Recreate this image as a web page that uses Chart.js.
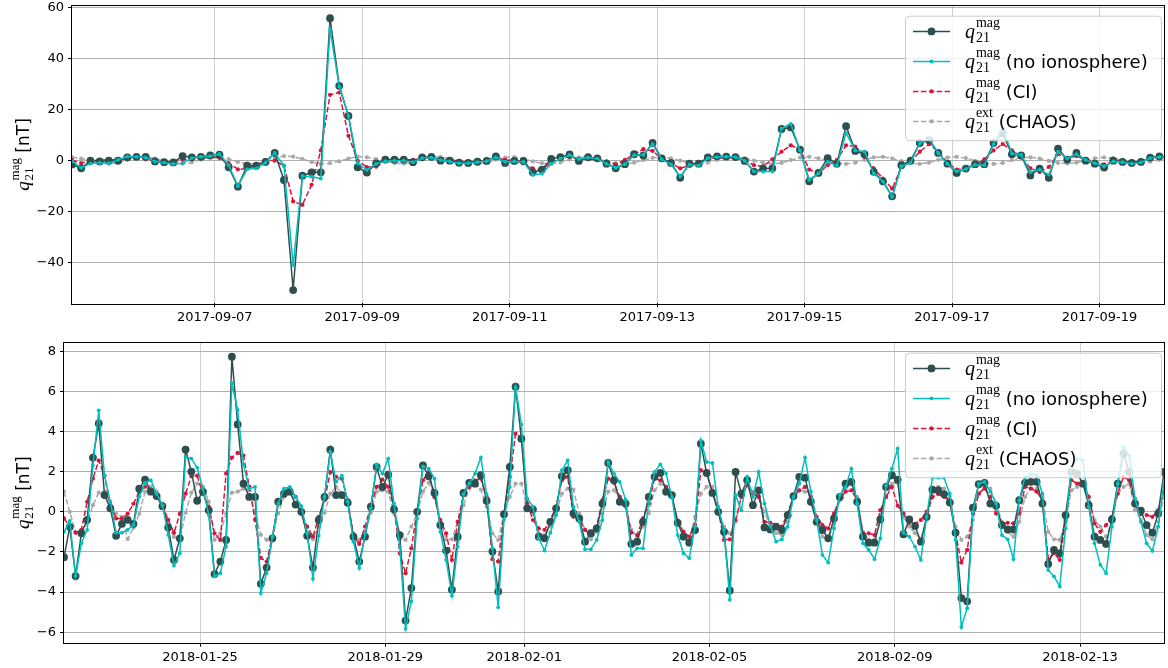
<!DOCTYPE html>
<html>
<head>
<meta charset="utf-8">
<script src="https://cdn.jsdelivr.net/npm/chart.js@4.4.1/dist/chart.umd.min.js"></script>
<style>
  html, body { margin: 0; padding: 0; background: #fff; }
  body { width: 1168px; height: 668px; position: relative; overflow: hidden; }
  canvas { position: absolute; left: 0; }
  #topChart { top: 0; }
  #bottomChart { top: 330px; }
</style>
</head>
<body>
<canvas id="topChart" width="1168" height="330"></canvas>
<canvas id="bottomChart" width="1168" height="338"></canvas>
<script>
// sampling: one value every 3 hours, starting at these times (UTC)
const STEP_HOURS = 3;
const topStart = "2017-09-05T01:30:00Z";
const topEnd = "2017-09-19T21:00:00Z";
const bottomStart = "2018-01-22T01:30:00Z";
const bottomEnd = "2018-02-14T19:30:00Z";

const topDateTicks = ["2017-09-07", "2017-09-09", "2017-09-11", "2017-09-13", "2017-09-15", "2017-09-17", "2017-09-19"];
const bottomDateTicks = ["2018-01-25", "2018-01-29", "2018-02-01", "2018-02-05", "2018-02-09", "2018-02-13"];
const topYTicks = [-40, -20, 0, 20, 40, 60];
const bottomYTicks = [-6, -4, -2, 0, 2, 4, 6, 8];

// ---- top panel (Sept 2017) ----
const magTop = [
  -1.5, -3.0, 0.0, -0.3, 0.0, 0.0, 1.3, 1.5, 1.5, -0.3,
  -0.6, -0.7, 1.8, 1.3, 1.5, 2.0, 2.3, -2.6, -10.2, -2.0,
  -2.0, -0.5, 3.0, -7.6, -50.7, -5.9, -4.6, -4.6, 55.8, 29.3,
  17.5, -2.6, -4.7, -1.1, 0.4, 0.4, 0.4, -0.6, 1.3, 1.5,
  0.0, 0.0, -0.8, -0.9, -0.4, -0.1, 1.7, -0.9, -0.1, -0.1,
  -4.6, -3.5, 0.7, 1.4, 2.4, -0.1, 1.4, 0.9, -1.2, -3.0,
  -1.4, 2.5, 2.0, 6.9, 0.9, -0.9, -6.7, -1.2, -1.2, 1.3,
  1.7, 1.6, 1.4, -0.1, -4.3, -3.1, -3.0, 12.4, 13.0, 4.3,
  -8.1, -4.8, 1.0, -1.2, 13.5, 3.8, 2.5, -4.4, -8.1, -14.0,
  -1.8, 0.0, 6.9, 8.0, 3.0, -1.2, -4.8, -3.1, -1.4, -1.4,
  6.9, 10.6, 2.5, 2.0, -5.8, -3.1, -6.7, 4.7, 0.4, 3.0,
  0.0, -1.2, -2.7, 0.0, -0.5, -0.9, -0.5, 1.2, 1.7, 1.6
];
const noIonoTop = [
  -0.2, -2.8, -1.2, -0.8, -1.0, 0.3, 1.6, 1.5, 1.2, -0.3,
  -0.8, -1.3, -1.0, 1.0, 1.5, 1.8, 2.6, -1.8, -10.0, -3.4,
  -3.0, -0.8, 3.0, -1.9, -40.9, -6.0, -6.3, -7.0, 51.3, 29.0,
  17.5, -1.1, -3.7, -1.3, -0.2, 0.0, 0.0, -0.6, 1.0, 1.2,
  0.2, -0.3, -1.0, -1.0, -0.6, -0.2, 1.3, -0.4, -0.3, -0.5,
  -5.6, -5.1, -1.2, 0.8, 2.2, 0.6, 1.2, 0.8, -1.3, -2.8,
  -1.4, 2.2, 2.3, 6.5, 0.5, -1.5, -6.2, -1.5, -2.0, 1.0,
  1.4, 1.6, 1.4, 0.0, -4.2, -4.3, -4.3, 12.6, 14.4, 4.0,
  -7.5, -5.0, -0.5, -2.0, 10.8, 4.0, 3.5, -5.0, -8.2, -14.2,
  -2.2, -0.8, 6.8, 8.6, 3.0, -1.3, -4.2, -3.3, -1.6, -1.8,
  6.5, 12.5, 2.8, 2.2, -4.5, -3.5, -5.5, 3.5, 0.9, 2.5,
  0.3, -1.0, -2.2, -0.3, -0.6, -1.2, -0.7, 1.0, 1.4, 1.7
];
const ciTop = [
  0.3, -1.0, 0.0, 0.2, 0.2, 0.5, 0.8, 1.2, 0.5, -0.2,
  -0.6, -0.4, 0.3, 0.8, 1.0, 1.6, 1.0, -1.0, -3.4, -3.2,
  -1.8, 0.2, 0.0, -2.0, -16.0, -17.3, -9.5, 4.0, 25.8, 26.7,
  9.7, 0.0, -2.5, -2.4, 0.0, 0.3, 0.4, 0.3, 0.8, 1.0,
  0.5, 0.2, -0.3, -0.6, -0.2, 0.2, 1.0, 0.3, 0.0, -1.0,
  -3.0, -3.5, -0.8, 0.8, 1.5, 0.6, 0.5, 0.4, -0.4, -1.5,
  0.3, 2.5, 4.5, 3.8, 0.8, -1.0, -3.0, -2.0, -0.6, 0.8,
  1.0, 1.2, 1.0, 0.0, -1.8, -2.2, 0.5, 3.5, 6.0, 4.5,
  -3.5, -5.0, -1.8, 0.2, 6.0, 5.5, 1.5, -3.0, -7.0, -11.0,
  -2.5, -0.5, 3.5, 6.5, 3.5, -0.8, -3.5, -3.0, -2.0, 0.5,
  4.0, 6.5, 4.0, 1.5, -3.0, -4.5, -2.5, 2.5, 1.0, 1.8,
  0.4, -0.5, -1.5, -0.3, -0.2, -0.6, -0.4, 0.8, 1.2, 1.4
];
const chaosTop = [
  1.4, 0.8, -0.1, -0.9, -1.2, -0.8, 0.3, 1.2,
  1.5, 0.9, -0.2, -1.0, -1.2, -0.7, 0.4, 1.3,
  1.5, 0.6, -0.5, -1.2, -1.3, -0.6, 0.8, 1.8,
  1.6, 0.6, -0.5, -1.3, -1.0, -0.3, 0.8, 1.6,
  1.3, 0.6, -0.3, -1.0, -1.2, -0.7, 0.5, 1.3,
  1.5, 0.7, -0.3, -1.1, -1.3, -0.8, 0.4, 1.2,
  1.4, 0.7, -0.3, -1.0, -1.3, -0.7, 0.4, 1.3,
  1.4, 0.8, -0.2, -1.0, -1.4, -0.8, 0.2, 1.1,
  1.4, 0.9, 0.0, -0.9, -1.3, -0.8, 0.3, 1.2,
  1.5, 1.0, 0.0, -0.9, -1.3, -0.9, 0.2, 1.2,
  1.5, 0.9, -0.2, -1.0, -1.3, -0.8, 0.3, 1.3,
  1.5, 0.9, -0.2, -1.0, -1.3, -0.8, 0.3, 1.2,
  1.5, 1.0, -0.1, -0.9, -1.3, -0.9, 0.2, 1.1,
  1.3, 0.8, -0.1, -0.9, -1.1, -0.8, 0.1, 0.9,
  1.3, 1.0, 0.0, -0.6, -0.8, -0.4, 0.3, 0.9
];

// ---- bottom panel (Jan/Feb 2018) ----
const magBottom = [
  -2.26, -0.75, -3.2, -1.07, -0.4, 2.7, 4.4, 0.83, 0.17, -1.2,
  -0.6, -0.4, -0.6, 1.15, 1.6, 1.0, 0.78, 0.28, -0.78, -2.4,
  -1.32, 3.1, 2.0, 0.55, 1.0, 0.08, -3.1, -2.48, -1.4, 7.72,
  4.35, 1.4, 0.74, 0.74, -3.59, -2.78, -1.32, 0.5, 0.9, 1.0,
  0.36, 0.0, -1.2, -2.78, -0.41, 0.74, 3.09, 0.83, 0.83, 0.45,
  -1.24, -2.48, -1.24, 0.25, 2.23, 1.24, 1.85, 0.12, -1.16, -5.42,
  -3.8, 0.0, 2.31, 1.77, 0.94, -0.66, -1.93, -3.88, -1.24, 0.94,
  1.44, 1.4, 1.82, 0.55, -1.98, -3.97, -0.12, 2.23, 6.23, 3.64,
  0.17, 0.12, -1.24, -1.32, -0.5, 0.17, 1.77, 2.07, -0.08, -0.33,
  -1.49, -1.07, -0.83, 0.41, 2.43, 1.57, 0.5, 0.41, -1.6, -1.49,
  -0.5, 0.74, 1.74, 1.93, 1.0, 0.83, -0.55, -1.24, -1.54, -0.91,
  3.39, 1.93, 0.94, 0.0, -1.0, -3.92, 1.98, 0.9, 1.57, 0.33,
  1.07, -0.78, -0.88, -0.74, -0.91, -0.17, 0.78, 1.74, 1.7, 0.5,
  -0.5, -0.91, -1.32, -0.33, 0.74, 1.4, 1.49, 0.5, -1.24, -1.54,
  -1.54, -0.38, 1.24, 1.82, 1.6, -1.12, -0.38, -0.71, -1.49, -0.25,
  1.1, 1.07, 0.88, 0.46, -1.04, -4.3, -4.46, 0.2, 1.37, 1.44,
  0.41, 0.3, -0.66, -0.88, -0.88, 0.58, 1.44, 1.49, 1.49, 0.41,
  -2.6, -1.9, -2.07, -0.17, 1.98, 1.9, 1.4, 0.33, -1.24, -1.4,
  -1.6, -0.38, 1.4, 2.9, 1.98, 0.41, 0.05, -0.66, -1.04, -0.08, 1.98
];
const noIonoBottom = [
  -1.0, -0.45, -3.2, -1.57, -0.9, 2.3, 5.05, 1.8, 0.5, -1.04,
  -1.04, -0.9, -0.65, 0.75, 1.45, 1.57, 0.9, 0.33, -1.15, -2.68,
  -2.06, 2.73, 2.65, 2.2, 1.15, -0.16, -3.22, -3.06, -1.73, 6.4,
  5.07, 2.36, 1.15, 1.24, -4.05, -3.06, -1.24, 0.41, 1.15, 1.24,
  0.74, 0.28, -1.07, -3.34, -1.2, 0.74, 2.98, 1.49, 1.8, 0.5,
  -1.49, -2.8, -1.07, 0.17, 2.36, 1.9, 2.64, 0.41, -1.74, -5.83,
  -4.46, -0.33, 2.26, 2.15, 1.65, -1.0, -2.4, -4.18, -1.74, 0.88,
  1.4, 1.9, 2.7, 0.88, -1.82, -4.76, -0.4, 1.24, 6.2, 4.35,
  0.66, 0.25, -1.32, -1.93, -1.04, -0.17, 2.07, 2.56, 0.25, -0.5,
  -1.87, -1.87, -1.4, -0.41, 2.48, 1.9, 1.49, 0.6, -2.15, -1.82,
  -1.82, 0.5, 1.98, 2.36, 1.9, 0.74, -1.16, -2.07, -2.31, -0.74,
  3.55, 2.48, 2.43, 0.25, -0.9, -4.38, 0.83, 0.08, 1.74, 0.74,
  1.98, 0.41, -0.71, -1.49, -1.37, -0.74, 0.74, 1.4, 2.7, 1.0,
  -0.41, -2.15, -2.53, -0.83, 0.83, 1.24, 2.15, 0.41, -1.57, -1.9,
  -2.36, -1.32, 1.3, 2.15, 3.14, -1.04, -1.24, -1.74, -2.4, -0.25,
  1.7, 1.7, 1.7, 0.9, -1.4, -5.74, -4.8, 0.0, 1.4, 1.49,
  1.0, 0.41, -1.16, -1.37, -2.36, 0.58, 1.74, 1.87, 1.82, 0.9,
  -2.9, -3.22, -3.72, -0.83, 2.23, 2.64, 2.56, 0.25, -1.57, -2.64,
  -3.06, -0.74, 1.4, 3.2, 2.8, 0.66, -0.5, -1.57, -1.95, -0.74, 1.4
];
const ciBottom = [
  -0.33, -0.75, -1.05, -0.9, 0.5, 1.65, 2.55, 1.8, 0.33, -0.33,
  -0.33, -0.1, 0.4, 1.0, 1.25, 1.1, 0.75, 0.33, -0.4, -1.05,
  -0.1, 0.9, 1.77, 1.8, 0.9, 0.25, -1.07, -1.4, 1.9, 2.7,
  2.93, 2.8, 1.25, -0.4, -2.3, -2.48, -1.24, 0.41, 1.0, 1.16,
  0.74, -0.08, -0.74, -1.24, -0.25, 0.58, 1.98, 1.74, 1.65, 0.58,
  -1.24, -1.6, -0.74, 0.28, 1.24, 1.6, 1.24, 0.25, -2.07, -3.06,
  -1.82, 0.08, 1.57, 1.98, 0.74, -0.41, -1.07, -2.4, -0.5, 0.83,
  1.24, 1.57, 1.65, 0.74, -2.36, -2.48, -0.08, 1.74, 3.88, 3.72,
  0.41, -0.41, -0.83, -0.9, -0.41, 0.25, 1.57, 1.74, -0.25, -0.33,
  -0.9, -1.16, -0.74, 0.58, 1.65, 1.44, 0.74, 0.33, -1.04, -1.16,
  -0.33, 0.41, 1.65, 1.57, 1.24, 0.74, -0.5, -1.0, -1.24, -0.66,
  2.07, 1.9, 1.0, 0.08, -1.4, -1.37, -0.41, 0.74, 1.32, 0.9,
  0.74, -0.5, -0.55, -0.66, -0.74, -0.08, 0.74, 1.07, 1.24, 0.74,
  -0.25, -0.66, -0.83, -0.08, 0.66, 1.0, 1.07, 0.58, -1.07, -1.07,
  -1.16, 0.08, 0.74, 1.24, 0.3, -0.08, -0.55, -0.6, -0.41, 0.0,
  0.74, 0.88, 0.74, 0.58, -1.07, -2.53, -1.9, -0.08, 0.9, 1.16,
  0.74, -0.08, -0.58, -0.55, -0.58, -0.08, 1.24, 1.16, 1.0, 0.58,
  -2.36, -2.07, -2.4, -0.41, 1.57, 1.4, 1.44, 0.74, -0.58, -1.0,
  -0.66, -0.25, 0.9, 1.74, 1.57, 0.33, -0.12, -0.16, -0.25, 0.08, 1.0
];
const chaosBottom = [
  1.0, 0.0, -1.0, -1.07, -0.55, 0.33, 0.95, 1.0, 0.4, -0.1,
  -0.25, -1.35, -0.8, -0.1, 1.0, 1.25, 1.0, 0.4, -0.65, -1.25,
  -1.4, -0.05, 0.95, 1.4, 1.25, 0.5, -1.4, -1.07, -0.1, 0.95,
  1.0, 1.15, 1.07, -0.08, -1.15, -1.4, -1.27, -0.08, 0.74, 1.04,
  0.74, -0.08, -1.0, -1.37, -0.74, -0.05, 0.9, 1.24, 0.9, 0.41,
  -1.07, -1.4, -1.0, -0.05, 1.0, 1.07, 1.0, -0.08, -1.37, -1.4,
  -0.74, -0.08, 1.0, 1.44, 0.74, -0.5, -1.37, -1.37, -0.5, 0.33,
  1.16, 1.4, 1.1, 0.25, -1.07, -1.4, -0.08, 0.74, 1.4, 1.4,
  0.25, -0.08, -1.07, -1.16, -0.74, -0.08, 0.9, 1.16, 1.1, -0.08,
  -0.9, -1.37, -1.0, -0.08, 1.0, 1.07, 0.74, 0.25, -0.9, -1.24,
  -0.74, -0.08, 1.07, 1.4, 1.24, 0.74, -0.41, -1.0, -1.37, -0.25,
  0.9, 1.24, 1.24, -0.08, -0.74, -1.07, -0.5, 0.74, 1.4, 1.0,
  0.74, 0.0, -0.74, -1.07, -1.16, -0.5, 0.74, 1.07, 1.0, 0.74,
  -0.55, -1.24, -1.37, -0.58, 0.58, 1.16, 1.4, 0.74, -1.0, -1.4,
  -1.4, -0.5, 0.74, 1.4, 1.44, -0.25, -0.74, -1.07, -1.37, -0.41,
  0.74, 1.24, 1.16, 0.74, -0.74, -1.4, -1.24, -0.41, 0.9, 1.24,
  1.16, 0.41, -0.5, -1.0, -1.24, -0.5, 0.74, 1.16, 1.16, 0.74,
  -1.0, -1.37, -1.4, -0.5, 1.07, 1.24, 1.4, 0.74, -0.41, -0.74,
  -1.24, -0.5, 0.9, 1.24, 1.4, 0.08, -0.41, -1.16, -1.37, -0.5, 0.74
];

// ---------------------------------------------------------------
const HOUR = 3600 * 1000;

// legend order (mag, no iono, CI, CHAOS); "order" = draw order (0 on top)
const seriesStyle = [
  { color: "#2f4f4f", dash: [], radius: 3.9, sup: "mag", tail: "", order: 1 },
  { color: "#00bfbf", dash: [], radius: 1.9, sup: "mag", tail: " (no ionosphere)", order: 0 },
  { color: "#dc143c", dash: [5.5, 2.4], radius: 2.1, sup: "mag", tail: " (CI)", order: 2 },
  { color: "#a9a9a9", dash: [5.5, 2.4], radius: 2.1, sup: "ext", tail: " (CHAOS)", order: 3 },
];

function toPoints(start, values) {
  const t0 = Date.parse(start);
  return values.map((v, i) => ({ x: t0 + i * STEP_HOURS * HOUR, y: v }));
}

function makeDatasets(start, series) {
  return series.map((vals, k) => {
    const s = seriesStyle[k];
    return {
      data: toPoints(start, vals),
      borderColor: s.color,
      backgroundColor: s.color,
      borderWidth: 1.5,
      borderDash: s.dash,
      pointRadius: s.radius,
      pointBorderWidth: 0,
      pointBackgroundColor: s.color,
      tension: 0,
      order: s.order,
      clip: 0,
    };
  });
}

// q_21^mag style label: italic q with superscript and subscript
function mathWidth(ctx, sup, tail, size) {
  ctx.font = "italic " + Math.round(size * 1.12) + "px 'Liberation Serif'";
  let w = ctx.measureText("q").width + size * 0.05;
  ctx.font = Math.round(size * 0.78) + "px 'Liberation Serif'";
  w += Math.max(ctx.measureText(sup).width, ctx.measureText("21").width);
  ctx.font = size + "px 'DejaVu Sans'";
  if (tail) w += ctx.measureText(tail).width;
  return w;
}

function drawMath(ctx, x, base, sup, tail, size) {
  ctx.fillStyle = "#000";
  ctx.textAlign = "left";
  ctx.textBaseline = "alphabetic";
  ctx.font = "italic " + Math.round(size * 1.12) + "px 'Liberation Serif'";
  ctx.fillText("q", x, base);
  let cx = x + ctx.measureText("q").width + size * 0.05;
  ctx.font = Math.round(size * 0.78) + "px 'Liberation Serif'";
  ctx.fillText(sup, cx, base - size * 0.61);
  ctx.fillText("21", cx, base + size * 0.22);
  cx += Math.max(ctx.measureText(sup).width, ctx.measureText("21").width);
  if (tail) {
    ctx.font = size + "px 'DejaVu Sans'";
    ctx.fillText(tail, cx, base);
  }
}

const decorPlugin = {
  id: "decor",
  afterDatasetsDraw(chart) {
    const { ctx, chartArea: a } = chart;
    const opts = chart.options.plugins.decor;
    ctx.save();
    // axes frame
    ctx.strokeStyle = "#000";
    ctx.lineWidth = 1;
    ctx.setLineDash([]);
    ctx.strokeRect(Math.round(a.left) - 0.5, Math.round(a.top) - 0.5,
      Math.round(a.right - a.left) + 1, Math.round(a.bottom - a.top) + 1);

    // legend
    const bw = 256, bh = 124.5;
    const bx = a.right - 3 - bw, by = a.top + 10;
    ctx.beginPath();
    ctx.roundRect(bx + 0.5, by + 0.5, bw, bh, 4);
    ctx.fillStyle = "rgba(255,255,255,0.8)";
    ctx.fill();
    ctx.strokeStyle = "#cccccc";
    ctx.stroke();
    seriesStyle.forEach((s, k) => {
      const yc = by + 15.7 + 30 * k;
      ctx.strokeStyle = s.color;
      ctx.lineWidth = 1.5;
      ctx.setLineDash(s.dash);
      ctx.beginPath();
      ctx.moveTo(bx + 8, yc);
      ctx.lineTo(bx + 45, yc);
      ctx.stroke();
      ctx.setLineDash([]);
      ctx.fillStyle = s.color;
      ctx.beginPath();
      ctx.arc(bx + 26.5, yc, s.radius, 0, Math.PI * 2);
      ctx.fill();
      drawMath(ctx, bx + 60, yc + 7, s.sup, s.tail, 18);
    });

    // y axis title
    const size = 17;
    const w = mathWidth(ctx, "mag", " [nT]", size);
    ctx.translate(opts.titleX, (a.top + a.bottom) / 2);
    ctx.rotate(-Math.PI / 2);
    drawMath(ctx, -w / 2, 0, "mag", " [nT]", size);
    ctx.restore();
  },
};

function fmtDate(v) {
  return new Date(v).toISOString().slice(0, 10);
}
function fmtNum(v) {
  return v < 0 ? "\u2212" + Math.abs(v) : String(v);
}

function makeConfig(start, end, series, dateTicks, yTicks, yMin, yMax, yWidth, xHeight, padTop, titleX) {
  const tickFont = { family: "'DejaVu Sans'", size: 13 };
  return {
    type: "line",
    data: { datasets: makeDatasets(start, series) },
    plugins: [decorPlugin],
    options: {
      responsive: false,
      animation: false,
      devicePixelRatio: 1,
      layout: { padding: { top: padTop, right: 1, left: 0, bottom: 0 } },
      plugins: {
        legend: { display: false },
        tooltip: { enabled: false },
        decor: { titleX: titleX },
      },
      scales: {
        x: {
          type: "linear",
          min: Date.parse(start),
          max: Date.parse(end),
          afterBuildTicks: (ax) => {
            ax.ticks = dateTicks.map((d) => ({ value: Date.parse(d + "T00:00:00Z") }));
          },
          afterFit: (ax) => {
            ax.height = xHeight;
            ax.paddingLeft = 0;
            ax.paddingRight = 0;
          },
          ticks: {
            callback: (v) => fmtDate(v),
            autoSkip: false,
            maxRotation: 0,
            minRotation: 0,
            color: "#000",
            font: tickFont,
            padding: 3,
          },
          grid: { color: "#cfcfcf", lineWidth: 1, tickColor: "#000", tickLength: 4 },
          border: { display: false },
        },
        y: {
          min: yMin,
          max: yMax,
          afterBuildTicks: (ax) => {
            ax.ticks = yTicks.map((v) => ({ value: v }));
          },
          afterFit: (ax) => {
            ax.width = yWidth;
            ax.paddingTop = 0;
            ax.paddingBottom = 0;
          },
          ticks: { callback: (v) => fmtNum(v), color: "#000", font: tickFont, padding: 4 },
          grid: { color: "#b0b0b0", lineWidth: 1, tickColor: "#000", tickLength: 4 },
          border: { display: false },
        },
      },
    },
  };
}

new Chart(document.getElementById("topChart"),
  makeConfig(topStart, topEnd, [magTop, noIonoTop, ciTop, chaosTop],
    topDateTicks, topYTicks, -55.9, 60.7, 72, 26.7, 5.7, 29));

new Chart(document.getElementById("bottomChart"),
  makeConfig(bottomStart, bottomEnd, [magBottom, noIonoBottom, ciBottom, chaosBottom],
    bottomDateTicks, bottomYTicks, -6.52, 8.42, 64, 25.3, 12.7, 29));
</script>
</body>
</html>
